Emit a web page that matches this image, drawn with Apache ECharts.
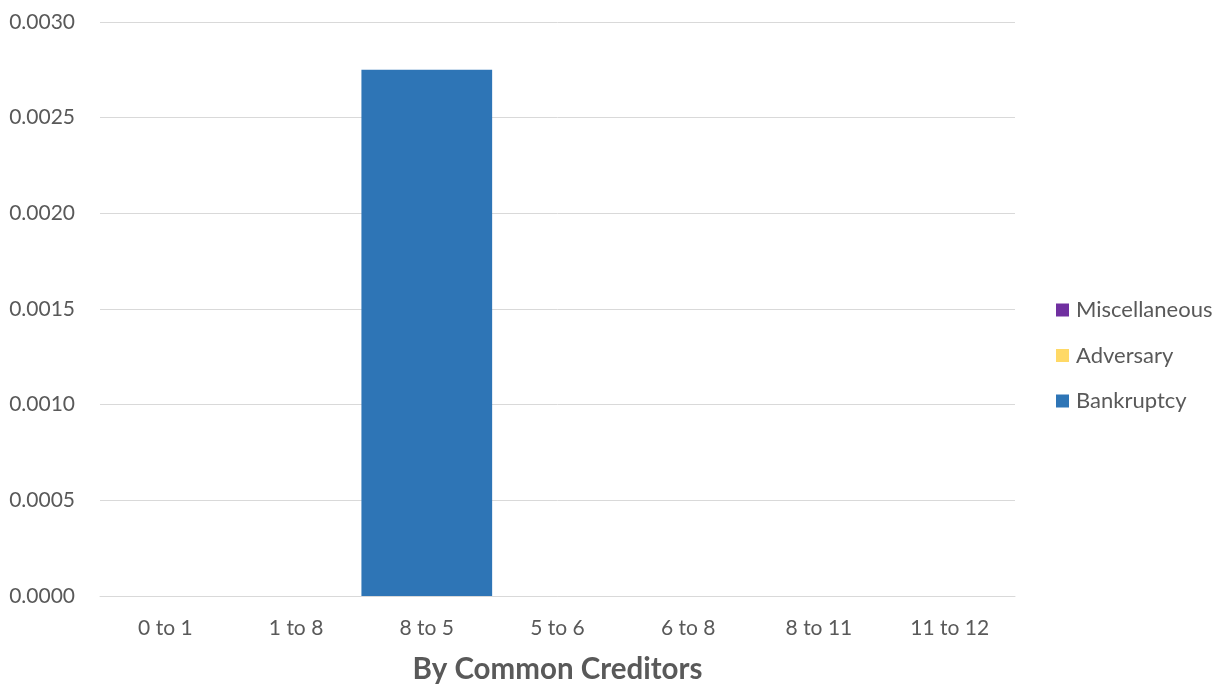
<!DOCTYPE html>
<html>
<head>
<meta charset="utf-8">
<script src="https://cdn.jsdelivr.net/npm/echarts@6/dist/echarts.min.js"></script>
<style>html,body{margin:0;padding:0;background:#fff;}#c{width:1225px;height:685px;}</style>
</head>
<body>
<div id="c"></div>
<script>
const categories = ["0 to 1", "1 to 8", "8 to 5", "5 to 6", "6 to 8", "8 to 11", "11 to 12"];
const bankruptcy = [0, 0, 0.00275, 0, 0, 0, 0];
const adversary = [0, 0, 0, 0, 0, 0, 0];
const miscellaneous = [0, 0, 0, 0, 0, 0, 0];
const yTicks = { min: 0, max: 0.003, interval: 0.0005 };

const font = 'Lato, "Open Sans", sans-serif';
const chart = echarts.init(document.getElementById('c'));
chart.setOption({
  animation: false,
  textStyle: { fontFamily: font },
  grid: { left: 100, right: 210, top: 22, bottom: 89, outerBoundsMode: 'none', containLabel: false },
  legend: {
    orient: 'vertical',
    left: 1056, top: 299, padding: 0,
    itemWidth: 13, itemHeight: 13, itemGap: 23.5,
    icon: 'rect',
    textStyle: { fontSize: 22, lineHeight: 22, color: '#595959', fontFamily: font, padding: [0, 0, 0, 2] },
    data: ['Miscellaneous', 'Adversary', 'Bankruptcy']
  },
  xAxis: {
    type: 'category',
    data: categories,
    axisTick: { show: false },
    axisLine: { lineStyle: { color: '#d9d9d9', width: 1 } },
    axisLabel: { fontSize: 21, color: '#595959', margin: 22 },
    name: 'By Common Creditors',
    nameLocation: 'middle',
    nameGap: 73,
    nameTextStyle: { fontSize: 29.5, fontWeight: 'bold', color: '#595959', verticalAlign: 'middle' }
  },
  yAxis: {
    type: 'value',
    min: yTicks.min, max: yTicks.max, interval: yTicks.interval,
    axisLine: { show: false },
    axisTick: { show: false },
    splitLine: { lineStyle: { color: '#d9d9d9', width: 1 } },
    axisLabel: { fontSize: 21, color: '#595959', margin: 25, formatter: v => v.toFixed(4) }
  },
  series: [
    { name: 'Bankruptcy', type: 'bar', stack: 's', data: bankruptcy, barWidth: '100%', itemStyle: { color: '#2E75B6' } },
    { name: 'Adversary', type: 'bar', stack: 's', data: adversary, barWidth: '100%', itemStyle: { color: '#FFD966' } },
    { name: 'Miscellaneous', type: 'bar', stack: 's', data: miscellaneous, barWidth: '100%', itemStyle: { color: '#7030A0' } }
  ]
});
</script>
</body>
</html>
